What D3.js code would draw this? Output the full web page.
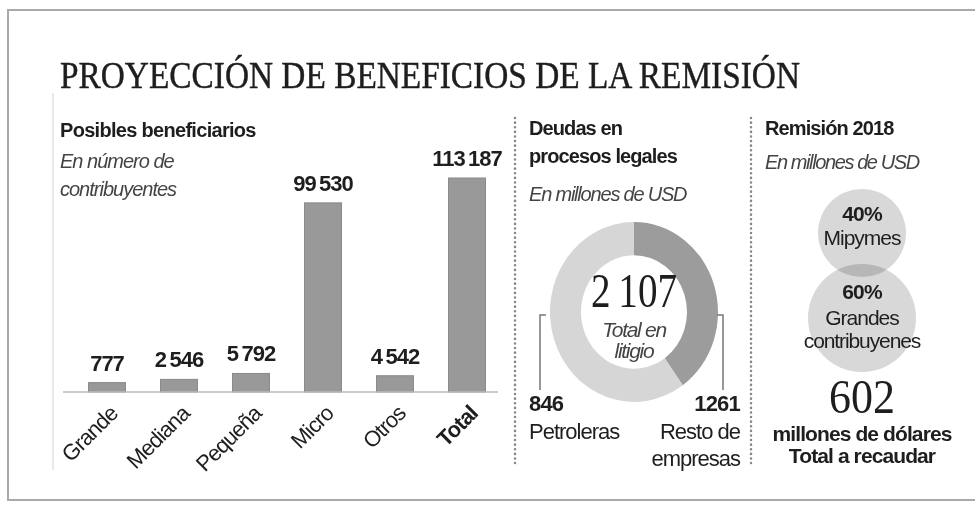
<!DOCTYPE html>
<html>
  <head>
    <meta charset="utf-8">
    <title></title>
    <style>
      body, html{
        margin: 0;
        width: 100%;
        height: 100%;
        background: #fff;
      }
      svg text{
        font-family: "Liberation Sans", Arial, sans-serif;
        fill: #1e1e1e;
      }
      .serif{ font-family: "Liberation Serif", "Times New Roman", serif !important; }
      .b{ font-weight: bold; }
      .it{ font-style: italic; fill: #444; }
    </style>
  </head>
  <body>
    <svg id="chart" width="975" height="506"></svg>
    <script src="https://cdn.jsdelivr.net/npm/d3@7"></script>
    <script>

// posibles beneficiarios (número de contribuyentes)
var categories = ['Grande', 'Mediana', 'Pequeña', 'Micro', 'Otros', 'Total']
var beneficiarios = [777, 2546, 5792, 99530, 4542, 113187]

// deudas en procesos legales (millones USD)
var deudaLabels = ['Petroleras', 'Resto de empresas']
var deudaValues = [846, 1261]
var deudaTotal = 2107

// remisión 2018
var remisionLabels = ['Mipymes', 'Grandes contribuyenes']
var remisionShares = [40, 60]
var remisionTotal = 602

var svg = d3.select('#chart')
var fmt = function(v){ return d3.format(',')(v).replace(/,/g, '\u2009') }

// small helper, everything here is plain svg text
function label(x, y, txt, size, opts){
  opts = opts || {}
  var t = svg.append('text').attr('x', x).attr('y', y).attr('font-size', size)
    .attr('letter-spacing', opts.ls == null ? -0.8 : opts.ls)
    .attr('text-anchor', opts.anchor || 'start')
    .text(txt)
  if(opts.cls) t.attr('class', opts.cls)
  if(opts.fill) t.attr('fill', opts.fill)
  return t
}

// card frame
svg.append('rect').attr('x', 8).attr('y', 10).attr('width', 1000).attr('height', 490)
  .attr('fill', 'none').attr('stroke', '#aaa').attr('stroke-width', 2)
svg.append('line').attr('x1', 53).attr('x2', 53).attr('y1', 93).attr('y2', 470)
  .attr('stroke', '#e2e2e2').attr('stroke-width', 1.5)

svg.append('text').attr('class', 'serif').attr('x', 60).attr('y', 88)
  .attr('font-size', 37).attr('textLength', 740).attr('lengthAdjust', 'spacingAndGlyphs')
  .attr('stroke', '#1e1e1e').attr('stroke-width', 0.4)
  .text('PROYECCIÓN DE BENEFICIOS DE LA REMISIÓN')

// ---- bars
var baseY = 392
var x = d3.scalePoint().domain(categories).range([71, 503]).padding(0.5)
var y = d3.scaleLinear().domain([0, d3.max(beneficiarios)]).range([384, 178])
var bw = 37

label(60, 137, 'Posibles beneficiarios', 20, {cls: 'b', ls: -0.7})
label(60, 168, 'En número de', 20, {cls: 'it', ls: -1})
label(60, 196, 'contribuyentes', 20, {cls: 'it', ls: -1})

var bars = svg.append('g').selectAll('g').data(categories).enter().append('g')
bars.append('rect')
  .attr('x', function(d){ return x(d) - bw / 2 })
  .attr('y', function(d, i){ return y(beneficiarios[i]) })
  .attr('width', bw)
  .attr('height', function(d, i){ return baseY - y(beneficiarios[i]) })
  .attr('fill', '#999').attr('stroke', '#8a8a8a')
bars.append('text').attr('class', 'b')
  .attr('x', function(d){ return x(d) }).attr('y', function(d, i){ return y(beneficiarios[i]) - 12 })
  .attr('text-anchor', 'middle').attr('font-size', 22).attr('letter-spacing', -1)
  .text(function(d, i){ return fmt(beneficiarios[i]) })
bars.append('text')
  .attr('transform', function(d){ return 'translate(' + (x(d) + 1) + ',' + (baseY + 12) + ') rotate(-45)' })
  .attr('text-anchor', 'end').attr('dy', '0.7em').attr('font-size', 22).attr('letter-spacing', -0.9)
  .attr('font-weight', function(d){ return d == 'Total' ? 'bold' : 'normal' })
  .attr('fill', function(d){ return d == 'Total' ? '#1e1e1e' : '#3a3a3a' })
  .text(function(d){ return d })

svg.append('line').attr('x1', 63).attr('x2', 498).attr('y1', baseY).attr('y2', baseY)
  .attr('stroke', '#bbb').attr('stroke-width', 1.5)

// dotted separators
;[515, 751].forEach(function(sx){
  svg.append('line').attr('x1', sx).attr('x2', sx).attr('y1', 118).attr('y2', 465)
    .attr('stroke', '#888').attr('stroke-width', 2.5).attr('stroke-dasharray', '0.1 4.5')
    .attr('stroke-linecap', 'round')
})

// ---- donut (the printed one is a bit stretched vertically)
var cx = 634, cy = 312
label(529, 135, 'Deudas en', 20, {cls: 'b', ls: -0.9})
label(529, 163, 'procesos legales', 20, {cls: 'b', ls: -0.9})
label(529, 201, 'En millones de USD', 20, {cls: 'it', ls: -1.2})

var pie = d3.pie().sort(null)
var arc = d3.arc().innerRadius(53).outerRadius(84)
var donutColors = ['#9c9c9c', '#d6d6d6']
svg.append('g').attr('transform', 'translate(' + cx + ',' + cy + ') scale(1,1.07)')
  .selectAll('path').data(pie(deudaValues)).enter().append('path')
  .attr('d', arc).attr('fill', function(d, i){ return donutColors[i] })

svg.append('text').attr('class', 'serif').attr('x', cx).attr('y', 307).attr('text-anchor', 'middle')
  .attr('font-size', 48).attr('textLength', 86).attr('lengthAdjust', 'spacingAndGlyphs')
  .text(fmt(deudaTotal))
label(cx, 337, 'Total en', 21, {cls: 'it', ls: -1.3, anchor: 'middle', fill: '#222'})
label(cx, 358, 'litigio', 21, {cls: 'it', ls: -1.3, anchor: 'middle', fill: '#222'})

var leader = d3.line()
svg.append('path').attr('d', leader([[546, 315], [540, 315], [540, 390]]))
  .attr('fill', 'none').attr('stroke', '#777').attr('stroke-width', 1.5)
svg.append('path').attr('d', leader([[717, 315], [723, 315], [723, 390]]))
  .attr('fill', 'none').attr('stroke', '#777').attr('stroke-width', 1.5)

label(529, 411, deudaValues[0], 22, {cls: 'b', ls: -0.8})
label(529, 439, deudaLabels[0], 22, {ls: -1, fill: '#333'})
label(740, 411, deudaValues[1], 22, {cls: 'b', ls: -0.8, anchor: 'end'})
label(740, 439, 'Resto de', 22, {ls: -1, fill: '#333', anchor: 'end'})
label(740, 466, 'empresas', 22, {ls: -1, fill: '#333', anchor: 'end'})

// ---- bubbles
var bx = 862
label(765, 135, 'Remisión 2018', 20, {cls: 'b', ls: -0.9})
label(765, 169, 'En millones de USD', 20, {cls: 'it', ls: -1.4})

var r = d3.scaleSqrt().domain([0, 60]).range([0, 54])
var bubbleY = [233, 318]
svg.append('g').selectAll('circle').data(remisionShares).enter().append('circle')
  .attr('cx', bx).attr('cy', function(d, i){ return bubbleY[i] })
  .attr('r', function(d){ return r(d) })
  .attr('fill', '#d8d8d8').style('mix-blend-mode', 'multiply')

label(bx, 221, remisionShares[0] + '%', 21, {cls: 'b', anchor: 'middle', ls: -0.8})
label(bx, 245, remisionLabels[0], 21, {anchor: 'middle', fill: '#333', ls: -1})
label(bx, 299, remisionShares[1] + '%', 21, {cls: 'b', anchor: 'middle', ls: -0.8})
label(bx, 325, 'Grandes', 21, {anchor: 'middle', fill: '#333', ls: -1})
label(bx, 348, 'contribuyenes', 21, {anchor: 'middle', fill: '#333', ls: -1.1})

svg.append('text').attr('class', 'serif').attr('x', bx).attr('y', 413).attr('text-anchor', 'middle')
  .attr('font-size', 48).attr('textLength', 66).attr('lengthAdjust', 'spacingAndGlyphs')
  .text(remisionTotal)
label(bx, 441, 'millones de dólares', 21, {cls: 'b', anchor: 'middle', ls: -0.9})
label(bx, 463, 'Total a recaudar', 21, {cls: 'b', anchor: 'middle', ls: -0.9})
    </script>
  </body>
</html>
